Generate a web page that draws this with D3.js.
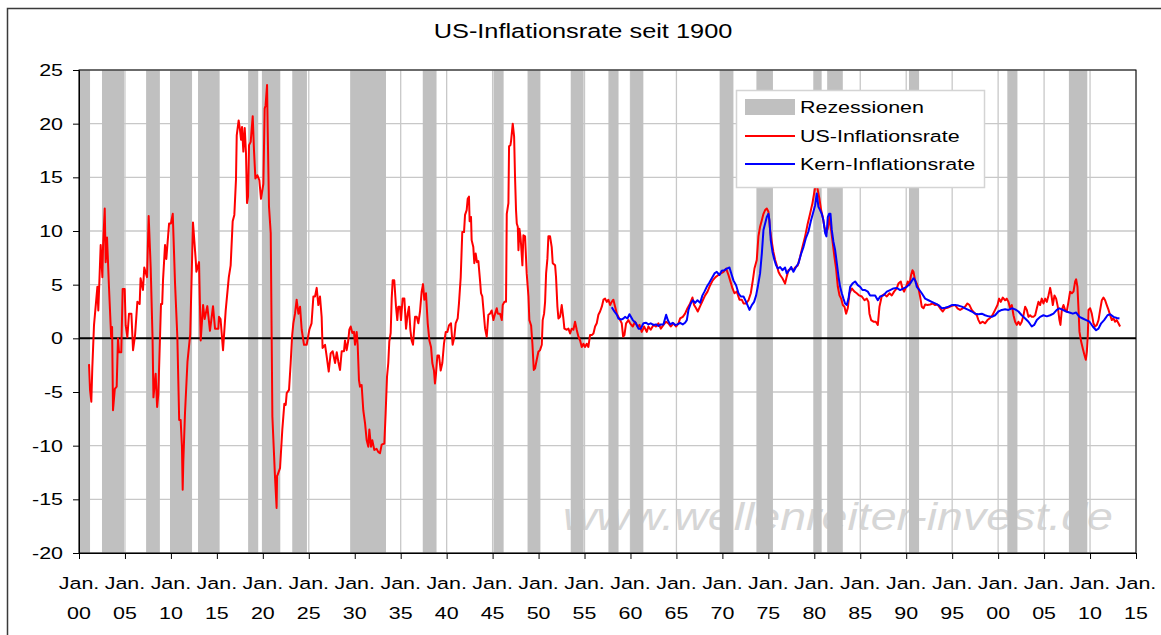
<!DOCTYPE html>
<html>
<head>
<meta charset="utf-8">
<script src="https://cdn.jsdelivr.net/npm/d3@7"></script>
<style>
  html, body { margin: 0; padding: 0; background: #fff; }
  text { font-family: "Liberation Sans", Arial, sans-serif; fill: #000; }
</style>
</head>
<body>
<div id="root"></div>
<script>
// recession periods (decimal years)
const recessionStart = [1900.0, 1902.5, 1907.3, 1909.9, 1912.95, 1918.4, 1919.9, 1923.2, 1929.5, 1937.4, 1945.1,
    1948.8, 1953.5, 1957.6, 1960.0, 1969.7, 1973.7, 1979.9, 1981.4, 1990.3, 2001.0, 2007.7];
const recessionEnd = [1901.2, 1904.9, 1908.8, 1912.3, 1915.3, 1919.5, 1921.9, 1924.8, 1933.4, 1938.9, 1946.2,
    1950.2, 1954.9, 1958.7, 1961.4, 1971.2, 1975.5, 1980.8, 1983.1, 1991.4, 2002.1, 2009.7];

// US-Inflationsrate [year, %]
const inflation1900s = [[1901.09, -2.4], [1901.2, -4.8], [1901.34, -5.9], [1901.45, -2.7], [1901.63, 1.2], [1902.0, 4.8],
    [1902.1, 2.6], [1902.36, 8.7], [1902.54, 5.7], [1902.62, 8.7], [1902.8, 12.1], [1902.9, 7.1], [1903.05, 9.4],
    [1903.26, 4.8], [1903.5, 0.1], [1903.6, 1.05], [1903.7, -6.7], [1903.9, -4.7], [1904.1, -4.5], [1904.24, 0],
    [1904.35, -1.3], [1904.6, -1.3], [1904.75, 4.6], [1904.97, 4.6], [1905.08, 1.2], [1905.26, 0.1], [1905.44, 2.3],
    [1905.7, 2.3], [1905.88, -1.1], [1906.1, 0.3], [1906.35, 3.4], [1906.6, 3.2], [1906.7, 5.6], [1906.96, 4.5],
    [1907.1, 6.6], [1907.4, 5.7], [1907.58, 11.4], [1907.8, 6.6], [1908.0, 0.1], [1908.1, -5.5], [1908.34, -3.3],
    [1908.5, -6.4], [1908.63, -5.2], [1908.92, 3.2], [1909.05, 3.2], [1909.14, 5.4], [1909.36, 8.7], [1909.5, 7.4],
    [1909.8, 10.7], [1910.0, 10.7], [1910.2, 11.6], [1910.45, 5.1], [1910.7, 0.1], [1910.9, -7.6], [1911.06, -7.6],
    [1911.2, -10.1], [1911.28, -14.1], [1911.35, -11.5], [1911.53, -7], [1911.8, -2.2], [1912.1, 0.4], [1912.4, 10.8],
    [1912.7, 7.3], [1912.77, 6.2], [1913.06, 7.1], [1913.24, -0.2], [1913.5, 3.1], [1913.67, 1.8], [1913.96, 3],
    [1914.25, 0.7], [1914.58, 3], [1914.8, 0.9], [1915.16, 0.9], [1915.23, 2], [1915.4, 1.8], [1915.67, -1.1],
    [1915.96, 2.6], [1916.3, 5.7], [1916.5, 6.8], [1916.72, 10.9], [1916.9, 11.5], [1917.08, 14.8], [1917.16, 18.9],
    [1917.37, 20.3], [1917.52, 19.4], [1917.63, 18.5], [1917.74, 19.7], [1917.88, 17.4], [1918.03, 19.6],
    [1918.17, 17.2], [1918.28, 12.6], [1918.39, 13.2], [1918.5, 18], [1918.68, 18.3], [1918.9, 20.7], [1919.04, 17.5],
    [1919.19, 14.9], [1919.4, 15.2], [1919.62, 14.75], [1919.8, 13], [1920.06, 14.4], [1920.2, 21.4], [1920.3, 21.7],
    [1920.46, 23.6], [1920.53, 19.4], [1920.67, 12.3], [1920.86, 9.8], [1921.04, -7.3], [1921.33, -13], [1921.5, -15.8],
    [1921.55, -12.8], [1921.62, -12.7], [1921.87, -12.1], [1922.12, -8.5], [1922.34, -6.1], [1922.49, -6.2],
    [1922.6, -5.1], [1922.85, -4.8], [1923.03, -2.3], [1923.18, 0.15], [1923.32, 1.4], [1923.5, 2.3], [1923.68, 3.6],
    [1923.87, 2.3], [1924.05, 2.95], [1924.23, 0.8], [1924.48, -0.6], [1924.77, -0.6], [1925.06, 0.8], [1925.3, 1.4],
    [1925.5, 3.9], [1925.68, 3.9], [1925.86, 4.7], [1926.04, 3.1], [1926.22, 3.9], [1926.4, 2], [1926.5, -0.9],
    [1926.77, -0.6], [1926.95, -1.7], [1927.17, -3.1], [1927.38, -1.4], [1927.6, -1.2], [1927.86, -2.3],
    [1928.04, -1.3], [1928.22, -2.2], [1928.4, -2.95], [1928.58, -1.2], [1928.83, -1.2]];

const inflation1930s = [[1928.94, -0.2], [1929.12, -1.1], [1929.3, -0.2], [1929.41, 0.8], [1929.56, 1.1], [1929.74, 0.5],
    [1929.92, 0.6], [1930.03, -0.6], [1930.21, 0.6], [1930.32, -0.6], [1930.46, -3.9], [1930.57, -4.5],
    [1930.75, -4.35], [1930.93, -6.7], [1931.12, -7.9], [1931.3, -9.5], [1931.48, -10.1], [1931.59, -8.5],
    [1931.77, -10.1], [1931.91, -9.5], [1932.13, -10.4], [1932.38, -10.3], [1932.57, -10.6], [1932.75, -10.7],
    [1932.93, -9.9], [1933.22, -9.8], [1933.36, -7.0], [1933.51, -3.6], [1933.65, -2.3], [1933.76, -0.3],
    [1933.91, 0.5], [1934.02, 3.7], [1934.13, 5.4], [1934.3, 5.4], [1934.49, 2.95], [1934.63, 1.7], [1934.74, 2.95],
    [1934.92, 2.95], [1935.03, 1.7], [1935.21, 3.7], [1935.4, 3.7], [1935.58, 0.9], [1935.76, 2.3], [1935.9, 2.95],
    [1936.05, 0.8], [1936.19, -0.2], [1936.34, -0.6], [1936.56, 2.0], [1936.74, 2.0], [1936.92, 1.4], [1937.1, 2.5],
    [1937.28, 4.35], [1937.43, 5.05], [1937.57, 3.6], [1937.75, 4.2], [1937.94, 1.4], [1938.12, -0.2], [1938.3, -0.8],
    [1938.44, -2.3], [1938.62, -3.0], [1938.73, -4.2], [1938.84, -3.3], [1938.99, -1.6], [1939.17, -1.6],
    [1939.35, -3.0], [1939.53, -2.3], [1939.71, -0.5], [1939.9, 0.6], [1940.08, 0.6], [1940.25, 1.2], [1940.47, 1.4],
    [1940.65, -0.6], [1940.84, 0.15], [1940.98, 1.4], [1941.2, 1.85], [1941.34, 3.25], [1941.53, 5.7], [1941.7, 9.9],
    [1941.89, 9.9], [1942.0, 11.5], [1942.18, 11.95], [1942.29, 13.0], [1942.43, 13.2], [1942.5, 10.9],
    [1942.65, 11.3], [1942.72, 9.15], [1942.9, 8.5], [1943.01, 7.0], [1943.16, 7.9], [1943.3, 7.1], [1943.45, 7.2],
    [1943.63, 5.4], [1943.74, 4.2], [1943.88, 3.9], [1943.99, 2.8], [1944.18, 0.9], [1944.36, 0.15], [1944.54, 2.2],
    [1944.72, 2.3], [1944.9, 2.6], [1945.09, 1.7], [1945.27, 2.3], [1945.45, 2.8], [1945.56, 2.3], [1945.81, 2.3],
    [1946.0, 1.7], [1946.1, 3.1], [1946.28, 3.4], [1946.46, 3.4], [1946.54, 11.6], [1946.72, 12.6], [1946.79, 17.9],
    [1946.94, 18.0], [1947.01, 18.4], [1947.19, 20.0], [1947.34, 18.8], [1947.44, 15.0], [1947.55, 11.9],
    [1947.63, 10.7], [1947.74, 10.4], [1947.81, 8.2], [1947.92, 10.2], [1948.03, 9.5], [1948.1, 8.7], [1948.24, 6.8],
    [1948.35, 9.6], [1948.53, 9.5], [1948.71, 6.05], [1948.9, 3.9], [1949.0, 1.7], [1949.19, 1.2], [1949.33, -0.5],
    [1949.48, -2.95], [1949.62, -2.8], [1949.8, -2.0], [1949.98, -1.25], [1950.16, -1.1], [1950.35, -0.6],
    [1950.45, 1.7], [1950.6, 2.3], [1950.71, 3.4], [1950.82, 6.05], [1950.96, 7.4], [1951.07, 9.5], [1951.25, 9.5],
    [1951.43, 8.5], [1951.54, 7.0], [1951.8, 6.8], [1951.9, 5.7], [1952.05, 2.95], [1952.16, 1.85], [1952.34, 2.0],
    [1952.52, 3.1], [1952.7, 1.85], [1952.81, 0.9], [1953.07, 0.8], [1953.25, 0.9], [1953.43, 0.45], [1953.61, 0.9],
    [1953.79, 0.8], [1953.97, 1.55], [1954.15, 0.8], [1954.34, 0.15], [1954.52, -0.2], [1954.7, -0.8], [1954.88, -0.5],
    [1955.06, -0.8], [1955.24, -0.5], [1955.42, -0.8], [1955.6, 0.3], [1955.79, 0.3], [1955.97, 0.45], [1956.15, 1.1],
    [1956.33, 1.4], [1956.51, 2.2], [1956.69, 2.5], [1956.88, 2.95], [1957.06, 3.6], [1957.24, 3.7], [1957.42, 3.4],
    [1957.6, 3.6], [1957.78, 3.1], [1957.96, 3.4], [1958.14, 3.6], [1958.33, 2.95], [1958.51, 2.3], [1958.69, 2.0],
    [1958.87, 1.7], [1959.05, 1.4], [1959.2, 0.15], [1959.34, 0.3], [1959.52, 1.4], [1959.78, 1.7]];

const inflation1960s = [[1959.96, 1.4], [1960.25, 1.1], [1960.5, 1.55], [1960.76, 1.1], [1960.98, 1.25], [1961.23, 0.6],
    [1961.48, 1.1], [1961.77, 0.6], [1961.95, 1.1], [1962.2, 0.8], [1962.5, 1.25], [1962.79, 1.1], [1963.04, 1.4],
    [1963.3, 0.9], [1963.59, 1.25], [1963.88, 1.55], [1964.13, 1.4], [1964.38, 1.1], [1964.67, 1.4], [1964.97, 1.1],
    [1965.22, 1.4], [1965.4, 1.85], [1965.69, 2.0], [1965.94, 2.3], [1966.2, 2.8], [1966.49, 3.25], [1966.74, 3.8],
    [1966.92, 3.1], [1967.14, 2.8], [1967.32, 2.5], [1967.58, 3.0], [1967.87, 3.55], [1968.12, 4.0], [1968.38, 4.35],
    [1968.67, 4.95], [1968.95, 5.4], [1969.25, 5.7], [1969.57, 5.9], [1969.83, 6.05], [1970.12, 6.2], [1970.41, 6.5],
    [1970.66, 5.9], [1970.84, 5.4], [1971.1, 4.65], [1971.31, 4.2], [1971.57, 4.35], [1971.86, 3.6], [1972.11, 3.6],
    [1972.3, 3.25], [1972.58, 3.25], [1972.84, 3.55], [1973.09, 4.2], [1973.31, 5.4], [1973.49, 6.5], [1973.74, 7.3],
    [1973.92, 9.5], [1974.1, 10.4], [1974.29, 11.0], [1974.47, 11.6], [1974.65, 11.95], [1974.83, 12.1],
    [1975.01, 11.8], [1975.19, 10.1], [1975.37, 9.0], [1975.55, 8.05], [1975.74, 7.3], [1975.92, 6.8], [1976.1, 6.2],
    [1976.28, 5.9], [1976.53, 5.6], [1976.82, 5.1], [1977.0, 5.75], [1977.19, 6.35], [1977.48, 6.5], [1977.73, 6.35],
    [1977.91, 6.6], [1978.2, 6.8], [1978.46, 7.6], [1978.71, 8.5], [1979.0, 9.5], [1979.25, 10.55], [1979.54, 11.6],
    [1979.8, 12.6], [1980.02, 13.7], [1980.2, 14.6], [1980.38, 13.8], [1980.56, 13.0], [1980.74, 11.95],
    [1980.92, 11.3], [1981.1, 10.4], [1981.29, 9.8], [1981.47, 10.25], [1981.65, 11.3], [1981.83, 10.1],
    [1982.01, 8.85], [1982.19, 7.6], [1982.37, 6.5], [1982.56, 4.8], [1982.74, 4.0], [1982.92, 3.7], [1983.1, 3.1],
    [1983.28, 2.95], [1983.46, 2.3], [1983.64, 2.8], [1983.83, 4.2], [1984.08, 4.65], [1984.37, 4.35], [1984.62, 4.2],
    [1984.88, 4.0], [1985.17, 3.9], [1985.46, 3.55], [1985.71, 3.7], [1985.89, 3.4], [1986.0, 2.3], [1986.18, 1.7],
    [1986.44, 1.55], [1986.69, 1.55], [1986.91, 1.25], [1987.09, 2.95]];

const inflation1990s = [[1987.34, 3.95], [1987.6, 4.1], [1987.89, 3.9], [1988.18, 4.2], [1988.43, 4.0], [1988.68, 4.35],
    [1988.97, 4.65], [1989.15, 5.1], [1989.41, 5.3], [1989.59, 4.65], [1989.77, 4.35], [1989.99, 4.8], [1990.17, 5.3],
    [1990.35, 4.95], [1990.53, 5.9], [1990.68, 6.35], [1990.79, 6.2], [1990.97, 5.4], [1991.15, 5.1], [1991.33, 4.65],
    [1991.51, 3.9], [1991.69, 2.95], [1991.88, 2.8], [1992.06, 3.15], [1992.31, 3.1], [1992.6, 3.15], [1992.89, 3.25],
    [1993.14, 3.1], [1993.4, 3.15], [1993.69, 2.8], [1993.98, 2.5], [1994.23, 2.8], [1994.49, 2.85], [1994.78, 2.95],
    [1995.07, 3.05], [1995.32, 3.1], [1995.57, 2.8], [1995.86, 2.65], [1996.15, 2.8], [1996.41, 2.95], [1996.66, 3.25],
    [1996.88, 3.1], [1997.13, 2.65], [1997.39, 2.4], [1997.68, 2.15], [1997.86, 1.7], [1998.04, 1.4], [1998.33, 1.55],
    [1998.58, 1.4], [1998.84, 1.7], [1999.13, 1.9], [1999.38, 2.15], [1999.67, 2.65], [1999.93, 3.1], [2000.11, 3.7],
    [2000.29, 3.4], [2000.51, 3.8], [2000.76, 3.55], [2000.94, 3.7], [2001.12, 3.4], [2001.3, 2.8], [2001.49, 3.1],
    [2001.67, 2.15], [2001.85, 1.55], [2002.03, 1.25], [2002.21, 1.55], [2002.39, 1.25], [2002.57, 1.55],
    [2002.76, 2.15], [2002.94, 2.95], [2003.12, 2.65], [2003.3, 2.0], [2003.48, 2.15], [2003.66, 2.0], [2003.84, 2.0],
    [2004.03, 2.15], [2004.21, 2.8], [2004.39, 3.4], [2004.57, 3.1], [2004.75, 3.7], [2004.93, 3.25], [2005.12, 3.7],
    [2005.3, 3.4], [2005.48, 4.0], [2005.66, 4.7], [2005.77, 4.2], [2005.95, 3.1], [2006.13, 4.0], [2006.31, 3.7],
    [2006.49, 2.95], [2006.67, 1.7], [2006.78, 1.25], [2006.93, 2.65], [2007.11, 3.1], [2007.29, 2.65], [2007.47, 2.5],
    [2007.65, 3.4], [2007.83, 4.35], [2008.02, 4.2], [2008.2, 4.35], [2008.38, 5.3], [2008.49, 5.5], [2008.63, 4.8],
    [2008.74, 2.8], [2008.85, 0.6], [2009.03, -0.3], [2009.21, -0.95], [2009.39, -1.55], [2009.54, -2.0],
    [2009.65, -1.25], [2009.76, 0.3], [2009.83, 2.65], [2010.01, 2.8], [2010.19, 2.3], [2010.37, 1.4], [2010.55, 1.1],
    [2010.74, 1.25], [2010.92, 1.7], [2011.1, 2.65], [2011.28, 3.55], [2011.46, 3.8], [2011.64, 3.55], [2011.82, 3.1],
    [2012.01, 2.65], [2012.19, 2.15], [2012.37, 1.7], [2012.55, 1.85], [2012.73, 1.55], [2012.91, 1.7],
    [2013.09, 1.4], [2013.27, 1.1]];

// Kern-Inflationsrate [year, %]
const core1950s = [[1957.96, 2.9], [1958.25, 2.5], [1958.51, 2.2], [1958.69, 1.85], [1958.98, 1.75], [1959.23, 1.85],
    [1959.41, 2.0], [1959.67, 1.85], [1959.89, 2.25], [1960.25, 1.7], [1960.6, 1.4], [1960.87, 0.9], [1961.12, 0.9],
    [1961.41, 1.4], [1961.7, 1.45], [1961.95, 1.3], [1962.2, 1.4], [1962.5, 1.25], [1962.79, 1.3], [1963.04, 1.15],
    [1963.3, 1.3], [1963.59, 1.3], [1963.88, 2.2], [1964.06, 1.7], [1964.31, 1.3], [1964.6, 1.45], [1964.86, 1.25],
    [1965.11, 1.3], [1965.4, 1.45], [1965.69, 1.3], [1965.94, 1.45], [1966.13, 1.7], [1966.31, 2.65], [1966.56, 3.25],
    [1966.78, 3.55], [1967.03, 3.3], [1967.29, 3.55], [1967.58, 3.3], [1967.83, 4.0], [1968.05, 4.35], [1968.3, 4.8],
    [1968.59, 5.2], [1968.85, 5.6], [1969.14, 6.05], [1969.39, 6.2], [1969.68, 5.9], [1969.93, 6.3], [1970.23, 6.35],
    [1970.48, 6.5], [1970.77, 6.6], [1971.02, 5.9], [1971.2, 5.4], [1971.49, 4.95], [1971.75, 4.2], [1972.0, 3.9],
    [1972.3, 3.9], [1972.58, 3.4], [1972.95, 2.65], [1973.2, 3.1], [1973.45, 3.4], [1973.67, 4.0]];

const core1970s = [[1973.85, 4.8], [1974.1, 6.05], [1974.29, 7.9], [1974.47, 10.1], [1974.65, 10.7], [1974.83, 11.3],
    [1975.01, 11.6], [1975.12, 11.0], [1975.26, 9.15], [1975.45, 8.05], [1975.66, 7.3], [1975.85, 6.8], [1976.03, 6.5],
    [1976.28, 6.65], [1976.53, 6.35], [1976.82, 6.6], [1977.0, 6.05], [1977.26, 6.35], [1977.48, 6.65], [1977.73, 6.2],
    [1977.98, 6.6], [1978.28, 7.0], [1978.57, 7.9], [1978.82, 8.5], [1979.07, 9.3], [1979.36, 9.95], [1979.62, 10.9],
    [1979.84, 11.6], [1980.09, 12.4], [1980.27, 13.5], [1980.45, 12.25], [1980.63, 11.95], [1980.81, 11.6],
    [1980.99, 11.0], [1981.18, 9.8], [1981.32, 9.5], [1981.47, 11.3], [1981.61, 11.6], [1981.76, 11.6], [1981.9, 10.1],
    [1982.08, 9.0], [1982.27, 8.2], [1982.45, 7.0], [1982.63, 5.75], [1982.81, 4.8], [1982.99, 4.2], [1983.17, 3.7],
    [1983.35, 3.25], [1983.53, 3.1], [1983.72, 3.7], [1983.9, 4.8], [1984.15, 5.1], [1984.44, 5.3], [1984.73, 4.95],
    [1984.99, 4.8], [1985.24, 4.5], [1985.53, 4.5], [1985.82, 4.35], [1986.07, 4.0], [1986.33, 4.0], [1986.62, 4.0],
    [1986.91, 3.55]];

const core1990s = [[1987.16, 3.9], [1987.52, 4.0], [1987.89, 4.35], [1988.25, 4.5], [1988.61, 4.65], [1988.97, 4.7],
    [1989.34, 4.5], [1989.7, 4.65], [1990.06, 4.8], [1990.42, 5.1], [1990.79, 5.6], [1990.97, 5.4], [1991.15, 4.8],
    [1991.44, 4.5], [1991.69, 4.2], [1992.06, 3.7], [1992.42, 3.55], [1992.78, 3.4], [1993.14, 3.25], [1993.51, 3.1],
    [1993.87, 2.8], [1994.23, 2.85], [1994.6, 2.95], [1994.96, 3.1], [1995.32, 3.1], [1995.68, 3.05], [1996.05, 2.95],
    [1996.41, 2.8], [1996.77, 2.65], [1997.13, 2.5], [1997.5, 2.3], [1997.86, 2.25], [1998.22, 2.3], [1998.58, 2.15],
    [1998.95, 2.05], [1999.31, 2.0], [1999.67, 2.15], [2000.03, 2.5], [2000.4, 2.65], [2000.76, 2.7], [2001.12, 2.65],
    [2001.49, 2.8], [2001.85, 2.7], [2002.21, 2.5], [2002.57, 2.15], [2002.94, 1.85], [2003.3, 1.55], [2003.66, 1.1],
    [2003.92, 1.25], [2004.21, 1.7], [2004.57, 2.0], [2004.93, 2.15], [2005.3, 2.05], [2005.66, 2.15], [2006.02, 2.3],
    [2006.38, 2.65], [2006.67, 2.8], [2007.04, 2.65], [2007.4, 2.5], [2007.76, 2.4], [2008.13, 2.3], [2008.49, 2.4],
    [2008.85, 2.0], [2009.21, 1.85], [2009.58, 1.7], [2009.94, 1.55], [2010.3, 1.1], [2010.66, 0.75], [2010.92, 0.9],
    [2011.21, 1.4], [2011.53, 1.7], [2011.9, 2.15], [2012.19, 2.25], [2012.55, 2.0], [2012.91, 1.9], [2013.2, 1.85]];

const yTicks = [-20, -15, -10, -5, 0, 5, 10, 15, 20, 25];
const xTickYears = d3.range(1900, 2016, 5);
const xTickLabels = xTickYears.map(yr => String(yr % 100).padStart(2, '0'));

const chartTitle = 'US-Inflationsrate seit 1900';
const legendLabels = ['Rezessionen', 'US-Inflationsrate', 'Kern-Inflationsrate'];

const inflation = [].concat(inflation1900s, inflation1930s, inflation1960s, inflation1990s);
const core = [].concat(core1950s, core1970s, core1990s);

let width = 1161,
    height = 635,
    stretch = 1.3; // the original text is drawn horizontally widened

let svg = d3.select('#root')
    .append('svg')
    .attr('width', width)
    .attr('height', height);

let x = d3.scaleLinear().domain([1900, 2015]).range([79, 1136]),
    y = d3.scaleLinear().domain([-20, 25]).range([553, 70]);

function wideText(parent, px, py, str, size, anchor) {
    return parent.append('text')
        .attr('transform', `translate(${px},${py}) scale(${stretch},1)`)
        .attr('text-anchor', anchor)
        .style('font-size', size + 'px')
        .text(str);
}

// outer frame
svg.append('rect')
    .attr('x', 7.5).attr('y', 8.5)
    .attr('width', 1300).attr('height', 800)
    .attr('fill', 'none')
    .attr('stroke', '#3a3a3a')
    .attr('stroke-width', 1.5);

wideText(svg, 583, 38, chartTitle, 19.5, 'middle');

// watermark behind the plot content
svg.append('text')
    .attr('x', 563).attr('y', 530)
    .attr('textLength', 550)
    .attr('lengthAdjust', 'spacingAndGlyphs')
    .style('font-size', '38px')
    .style('font-style', 'italic')
    .style('fill', '#d6d6d6')
    .text('www.wellenreiter-invest.de');

let grid = svg.append('g').attr('class', 'grid');

grid.selectAll('.hgrid')
    .data(yTicks)
    .enter()
    .append('line')
    .attr('x1', x(1900)).attr('x2', x(2015))
    .attr('y1', d => y(d)).attr('y2', d => y(d))
    .style('stroke', '#c8c8c8')
    .style('stroke-width', 1.3);

grid.selectAll('.vgrid')
    .data(xTickYears)
    .enter()
    .append('line')
    .attr('x1', d => x(d)).attr('x2', d => x(d))
    .attr('y1', y(25)).attr('y2', y(-20))
    .style('stroke', '#c8c8c8')
    .style('stroke-width', 1.3);

// recession bars
svg.append('g')
    .selectAll('rect')
    .data(d3.zip(recessionStart, recessionEnd))
    .enter()
    .append('rect')
    .attr('x', d => x(d[0]))
    .attr('width', d => x(d[1]) - x(d[0]))
    .attr('y', y(25))
    .attr('height', y(-20) - y(25))
    .attr('fill', '#c0c0c0');

// zero line
svg.append('line')
    .attr('x1', x(1900)).attr('x2', x(2015))
    .attr('y1', y(0)).attr('y2', y(0))
    .style('stroke', '#000')
    .style('stroke-width', 2);

// axes: ticks only, labels are added separately
svg.append('g')
    .attr('transform', `translate(${x(1900)},0)`)
    .call(d3.axisLeft(y).tickValues(yTicks).tickSize(6).tickSizeOuter(0).tickFormat(''))
    .call(g => g.selectAll('line, path').attr('stroke', '#000'));

svg.append('g')
    .attr('transform', `translate(0,${y(-20)})`)
    .call(d3.axisBottom(x).tickValues(xTickYears).tickSize(6).tickSizeOuter(0).tickFormat(''))
    .call(g => g.selectAll('line, path').attr('stroke', '#000'));

// plot frame (top and right)
svg.append('rect')
    .attr('x', x(1900)).attr('y', y(25))
    .attr('width', x(2015) - x(1900))
    .attr('height', y(-20) - y(25))
    .attr('fill', 'none')
    .attr('stroke', '#000')
    .attr('stroke-width', 1);

let yLabels = svg.append('g');
_each(yTicks, v => wideText(yLabels, 63, y(v) + 6, String(v), 16.5, 'end'));

let xLabels = svg.append('g');
_each(xTickYears, (yr, i) => {
    wideText(xLabels, x(yr), 589, 'Jan.', 16.5, 'middle');
    wideText(xLabels, x(yr), 619, xTickLabels[i], 16.5, 'middle');
});

function _each(arr, fn) { arr.forEach(fn); }

let line = d3.line()
    .x(d => x(d[0]))
    .y(d => y(d[1]));

svg.append('path')
    .datum(inflation)
    .attr('d', line)
    .attr('fill', 'none')
    .attr('stroke', '#ff0000')
    .attr('stroke-width', 2)
    .attr('stroke-linejoin', 'round');

svg.append('path')
    .datum(core)
    .attr('d', line)
    .attr('fill', 'none')
    .attr('stroke', '#0000ff')
    .attr('stroke-width', 2)
    .attr('stroke-linejoin', 'round');

// legend
let legend = svg.append('g').attr('class', 'legend');

legend.append('rect')
    .attr('x', 736.5).attr('y', 90.5)
    .attr('width', 248).attr('height', 97)
    .attr('fill', '#fff')
    .attr('stroke', '#d4d4d4')
    .attr('stroke-width', 1.5);

legend.append('rect')
    .attr('x', 745).attr('y', 99)
    .attr('width', 50).attr('height', 16)
    .attr('fill', '#c0c0c0');

legend.append('line')
    .attr('x1', 745).attr('x2', 795)
    .attr('y1', 136).attr('y2', 136)
    .attr('stroke', '#ff0000').attr('stroke-width', 2);

legend.append('line')
    .attr('x1', 745).attr('x2', 795)
    .attr('y1', 164).attr('y2', 164)
    .attr('stroke', '#0000ff').attr('stroke-width', 2);

_each(legendLabels, (label, i) => wideText(legend, 800, 113 + i * 28.5, label, 16.5, 'start'));
</script>
</body>
</html>
